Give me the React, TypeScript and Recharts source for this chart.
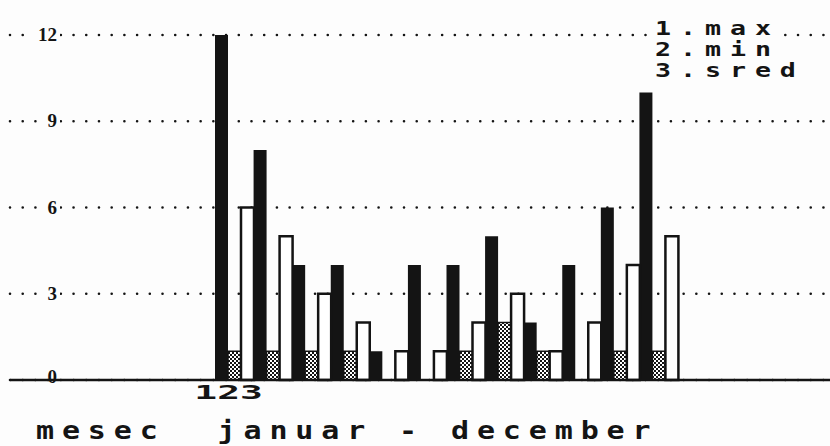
import React from "react";
import { BarChart, Bar, XAxis, YAxis, CartesianGrid, Legend } from "recharts";

// months januar - december
const months = ["1", "2", "3", "4", "5", "6", "7", "8", "9", "10", "11", "12"];
const xTickLabels = ["123", "", "", "", "", "", "", "", "", "", "", ""];

const maxValues = [12, 8, 4, 4, 1, 4, 4, 5, 2, 4, 6, 10];
const minValues = [1, 1, 1, 1, 0, 0, 1, 2, 1, 0, 1, 1];
const sredValues = [6, 5, 3, 2, 1, 1, 2, 3, 1, 2, 4, 5];

const seriesNames = ["max", "min", "sred"];
const yTicks = [0, 3, 6, 9, 12];
const footerText = "mesec  januar - december";

const data = months.map((m, i) => ({
  month: m,
  max: maxValues[i],
  min: minValues[i],
  sred: sredValues[i],
}));

const ink = "#141414";
const paper = "#fdfdfd";
const pixelFont = '"DejaVu Sans Mono", monospace';

function YTick(props: any) {
  const { x, y, payload } = props;
  const label = String(payload.value);
  const right = x + 47;
  const w = label.length * 11 + 6;
  return (
    <g>
      {payload.value !== 0 && (
        <rect x={right - w + 3} y={y - 9} width={w} height={16} fill={paper} />
      )}
      <text
        x={right}
        y={y + (payload.value === 0 ? 3 : 6)}
        textAnchor="end"
        fontFamily='"Liberation Serif", serif'
        fontWeight="bold"
        fontSize={19}
        fill={ink}
      >
        {label}
      </text>
    </g>
  );
}

function XTick(props: any) {
  const { x, y, index } = props;
  const label = xTickLabels[index];
  if (!label) return <g />;
  return (
    <text
      transform={`translate(${x - 40},${y + 19}) scale(2,1)`}
      fontFamily={pixelFont}
      fontWeight="bold"
      fontSize={19}
      fill={ink}
    >
      {label}
    </text>
  );
}

function LegendContent(props: any) {
  const items = props.payload ?? [];
  return (
    <div
      style={{
        fontFamily: pixelFont,
        fontWeight: "bold",
        fontSize: 19,
        lineHeight: "21px",
        color: ink,
      }}
    >
      {items.map((it: any, i: number) => (
        <div key={i}>
          <span
            style={{
              display: "inline-block",
              background: paper,
              transform: "scaleX(1.4)",
              transformOrigin: "left",
              letterSpacing: "6.4px",
            }}
          >
            {`${i + 1}.${it.value}`}
          </span>
        </div>
      ))}
    </div>
  );
}

export default function App() {
  return (
    <div
      style={{
        position: "fixed",
        left: 0,
        top: 0,
        width: 830,
        height: 446,
        background: paper,
        overflow: "hidden",
      }}
    >
      <BarChart
        width={830}
        height={446}
        data={data}
        margin={{ top: 35, right: 0, left: 0, bottom: 0 }}
        barCategoryGap={0}
        barGap={0}
      >
        <defs>
          <pattern id="hatch" width="4" height="4" patternUnits="userSpaceOnUse">
            <rect width="4" height="4" fill="#fff" />
            <rect x="0" y="0" width="2" height="2" fill={ink} />
            <rect x="2" y="2" width="2" height="2" fill={ink} />
          </pattern>
        </defs>

        <CartesianGrid
          vertical={false}
          stroke={ink}
          strokeWidth={2.6}
          strokeDasharray="0.01 12.7"
          strokeLinecap="round"
        />

        <XAxis
          dataKey="month"
          padding={{ left: 205, right: 152 }}
          axisLine={{ stroke: ink, strokeWidth: 2.5 }}
          tickLine={false}
          tickSize={0}
          tickMargin={0}
          tick={<XTick />}
          interval={0}
          height={66}
        />

        <YAxis
          width={10}
          domain={[0, 12]}
          ticks={yTicks}
          axisLine={false}
          tickLine={false}
          tickSize={0}
          tickMargin={0}
          tick={<YTick />}
          interval={0}
        />

        <Legend
          layout="horizontal"
          verticalAlign="middle"
          align="center"
          content={<LegendContent />}
          wrapperStyle={{ top: 18, left: 655, width: "auto", height: "auto" }}
        />

        <Bar dataKey="max" name={seriesNames[0]} fill={ink} isAnimationActive={false} />
        <Bar
          dataKey="min"
          name={seriesNames[1]}
          fill="url(#hatch)"
          stroke={ink}
          strokeWidth={1.5}
          isAnimationActive={false}
        />
        <Bar
          dataKey="sred"
          name={seriesNames[2]}
          fill="#fff"
          stroke={ink}
          strokeWidth={2.5}
          isAnimationActive={false}
        />
      </BarChart>

      <div
        style={{
          position: "absolute",
          left: 36,
          top: 419,
          fontFamily: pixelFont,
          fontWeight: "bold",
          fontSize: 24,
          lineHeight: "24px",
          color: ink,
          whiteSpace: "pre",
          transform: "scaleX(1.25)",
          transformOrigin: "left",
          letterSpacing: "6.3px",
        }}
      >
        {footerText}
      </div>
    </div>
  );
}
